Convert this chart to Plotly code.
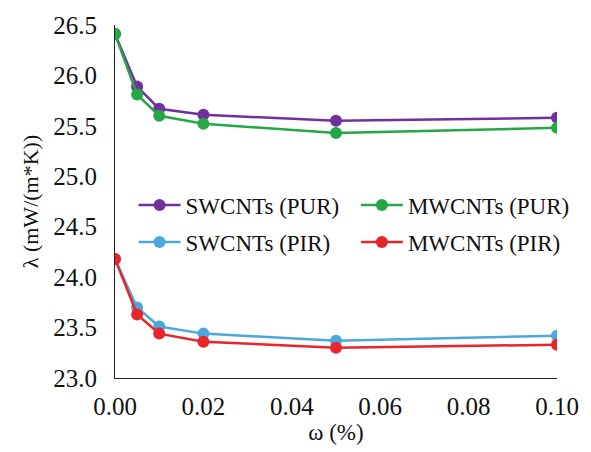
import plotly.graph_objects as go

omega = [0.0, 0.005, 0.01, 0.02, 0.05, 0.10]
sw_pur = [26.41, 25.89, 25.67, 25.61, 25.55, 25.58]
mw_pur = [26.41, 25.81, 25.60, 25.52, 25.43, 25.48]
sw_pir = [24.18, 23.70, 23.51, 23.44, 23.37, 23.42]
mw_pir = [24.18, 23.63, 23.44, 23.36, 23.30, 23.33]

names = ["SWCNTs (PUR)", "MWCNTs (PUR)", "SWCNTs (PIR)", "MWCNTs (PIR)"]
colors = ["#7030A0", "#25A748", "#4BA8DE", "#E8252B"]
series = [sw_pur, mw_pur, sw_pir, mw_pir]
legends = ["legend", "legend2", "legend3", "legend4"]

font = "'Liberation Serif', 'Times New Roman', 'DejaVu Serif', serif"

fig = go.Figure()
for name, col, vals, lg in zip(names, colors, series, legends):
    fig.add_trace(go.Scatter(
        x=omega, y=vals, name=name, mode="lines+markers",
        line=dict(color=col, width=2.5),
        marker=dict(color=col, size=12),
        legend=lg,
    ))

leg_common = dict(
    orientation="v", xanchor="left", yanchor="middle",
    font=dict(family=font, size=23, color="#111"),
    bgcolor="rgba(0,0,0,0)", itemwidth=42,
    itemclick=False, itemdoubleclick=False,
)

col1, col2 = 0.042, 0.545
row1, row2 = 0.49, 0.385

fig.update_layout(
    width=591, height=452,
    margin=dict(l=115, r=33, t=25, b=70),
    paper_bgcolor="white", plot_bgcolor="white",
    font=dict(family=font, size=23, color="#111"),
    showlegend=True,
    legend=dict(x=col1, y=row1, **leg_common),
    legend2=dict(x=col2, y=row1, **leg_common),
    legend3=dict(x=col1, y=row2, **leg_common),
    legend4=dict(x=col2, y=row2, **leg_common),
    xaxis=dict(
        range=[0, 0.10], tickvals=[0, 0.02, 0.04, 0.06, 0.08, 0.10],
        ticktext=["0.00", "0.02", "0.04", "0.06", "0.08", "0.10"],
        showline=True, linecolor="#222", linewidth=1.2, showgrid=False,
        zeroline=False, ticks="", ticklabelstandoff=6,
        tickfont=dict(family=font, size=25, color="#111"),
        title=dict(text="ω (%)", font=dict(family=font, size=23, color="#111"), standoff=4),
    ),
    yaxis=dict(
        range=[23.0, 26.5], tickvals=[23.0, 23.5, 24.0, 24.5, 25.0, 25.5, 26.0, 26.5],
        ticktext=["23.0", "23.5", "24.0", "24.5", "25.0", "25.5", "26.0", "26.5"],
        showline=True, linecolor="#222", linewidth=1.2, showgrid=False,
        zeroline=False, ticks="", ticklabelstandoff=12,
        tickfont=dict(family=font, size=25, color="#111"),
        title=dict(text="λ (mW/(m*K))", font=dict(family=font, size=22, color="#111"), standoff=8),
    ),
)

fig.write_html(
    "out.html",
    config={"displayModeBar": False},
    post_script="document.body.style.margin='0';document.body.style.overflow='hidden';",
)
